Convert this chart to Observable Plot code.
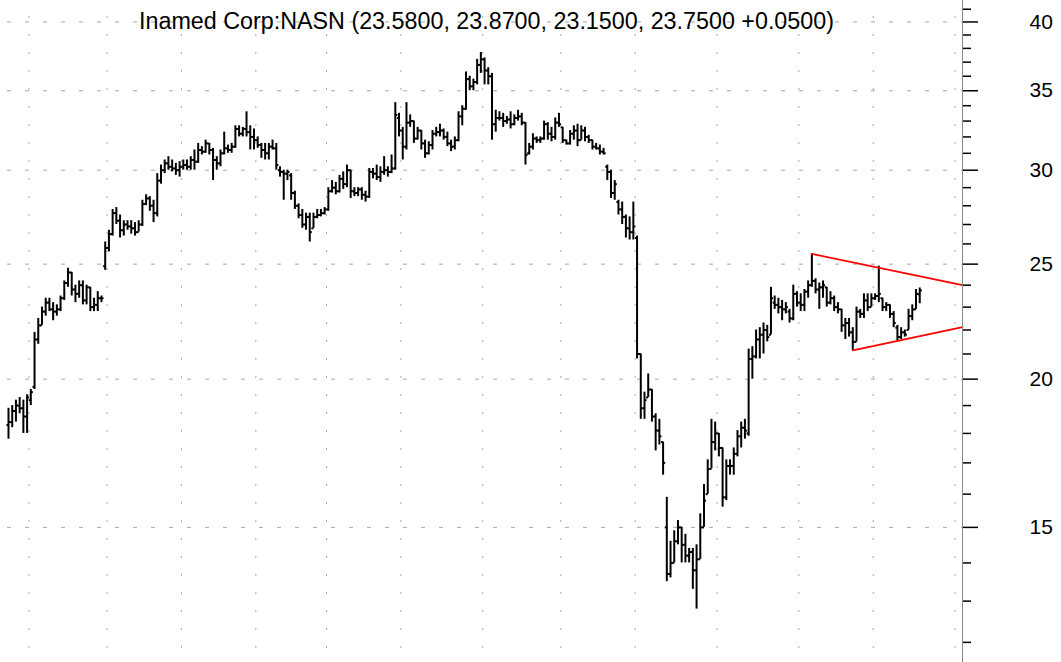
<!DOCTYPE html>
<html><head><meta charset="utf-8">
<script src="https://cdn.jsdelivr.net/npm/d3@7"></script>
<script src="https://cdn.jsdelivr.net/npm/@observablehq/plot@0.6"></script>
<style>html,body{margin:0;padding:0;background:#fff;}#chart{position:absolute;left:0;top:0;}</style>
</head><body><div id="chart"></div>
<script>
const title = "Inamed Corp:NASN (23.5800, 23.8700, 23.1500, 23.7500 +0.0500)";

const opens = [18.3,18.4,18.8,19.0,18.9,18.6,19.2,19.7,21.6,22.2,22.8,23.2,22.9,22.8,22.9,23.4,24.1,24.6,23.8,23.6,24.0,23.3,23.9,23.0,23.1,23.4,
24.9,25.8,26.5,27.6,27.2,26.7,27.0,26.9,26.8,26.6,27.0,28.1,28.4,28.0,27.6,29.4,30.0,30.4,30.2,30.1,30.0,30.2,30.3,30.2,
30.6,30.5,31.2,31.1,31.6,31.2,30.6,30.4,31.0,31.3,31.2,31.4,32.5,32.2,32.5,32.3,32.0,31.8,31.5,31.2,31.0,31.4,31.3,30.0,29.9,29.8,29.7,28.7,28.0,27.5,
27.0,27.4,26.8,27.4,27.5,27.6,27.8,28.8,29.0,28.8,29.5,29.2,30.0,28.8,28.7,28.9,28.6,28.5,29.9,29.8,
29.6,29.9,30.0,29.9,30.1,33.2,32.4,31.4,32.9,33.0,31.9,32.4,31.6,31.0,31.5,32.2,32.3,32.4,32.0,31.6,
31.4,31.8,33.3,33.8,35.8,35.3,35.6,36.8,37.2,36.4,36.0,32.8,33.2,33.2,33.0,33.1,32.8,33.2,33.3,32.9,
31.0,31.4,31.9,31.8,31.9,32.8,32.2,32.0,32.9,32.6,31.8,31.6,32.2,32.4,31.8,32.4,32.0,31.8,31.4,31.3,
31.1,30.2,29.9,28.7,28.2,27.8,27.4,26.8,26.6,26.3,21.0,18.9,19.3,19.6,18.6,18.1,17.7,15.0,13.7,14.0,
14.6,15.0,14.5,14.2,14.3,13.8,14.1,15.0,16.0,16.8,17.7,18.0,17.5,15.9,16.9,16.9,17.3,17.9,18.2,18.0,
20.8,20.9,21.6,21.8,22.0,21.8,23.2,23.1,23.0,22.9,22.8,22.5,23.6,23.2,23.1,23.7,24.0,24.2,23.8,23.9,
23.9,23.2,23.4,23.0,22.9,22.2,22.3,21.9,21.5,22.8,22.7,23.3,23.0,23.4,23.5,23.4,23.0,23.1,22.7,22.1,
21.7,21.9,22.0,22.6,22.9,23.58];
const highs = [18.9,19.0,19.2,19.3,19.2,19.4,19.6,21.9,22.5,23.0,23.4,23.4,23.2,23.1,23.5,24.2,24.8,24.6,24.0,24.2,24.2,24.0,23.9,23.4,23.7,23.5,
26.1,26.7,27.8,27.9,27.5,27.2,27.2,27.2,27.1,27.2,28.3,28.6,28.5,28.3,29.8,30.3,30.6,30.8,30.6,30.4,30.5,30.6,30.6,30.8,
31.2,31.6,31.4,31.8,31.6,31.3,30.8,31.2,32.3,31.5,31.6,32.7,32.7,32.6,33.6,32.7,32.5,32.0,31.6,31.6,31.6,31.8,31.6,30.2,30.0,30.0,29.8,28.8,28.1,27.8,
27.6,27.6,27.6,27.8,27.8,27.9,29.0,29.4,29.3,29.7,29.9,30.3,30.0,29.0,29.0,29.0,28.8,30.1,30.1,30.3,
30.2,30.8,30.2,30.9,34.2,33.5,32.6,34.2,33.4,33.0,32.6,32.4,31.8,31.7,32.4,32.6,32.8,32.5,32.3,31.8,
32.0,33.6,34.0,36.3,36.0,35.8,37.2,37.7,37.3,36.6,36.2,33.7,33.6,33.5,33.3,33.6,33.4,33.7,33.5,32.9,
31.6,32.2,32.0,32.0,33.0,32.9,32.6,33.2,33.5,32.6,31.8,32.4,32.7,32.8,32.7,32.6,32.1,31.8,31.6,31.5,
31.3,30.3,30.0,29.4,28.3,28.2,27.5,27.4,28.2,26.4,21.0,19.5,20.2,19.6,18.7,18.5,17.7,15.9,14.6,14.9,
15.2,15.0,14.8,14.4,14.4,14.5,15.4,16.3,17.1,18.5,18.4,18.0,17.5,17.1,17.1,17.5,18.1,18.4,18.5,21.2,
21.3,22.0,22.1,22.3,22.2,23.9,23.5,23.4,23.3,23.2,22.9,24.0,23.7,23.6,23.8,24.2,25.5,24.3,24.1,24.2,
23.9,23.7,23.5,23.2,22.9,22.5,22.5,22.1,23.0,22.9,23.6,23.6,23.6,23.6,24.9,23.4,23.2,23.1,22.8,22.2,
22.1,22.0,22.9,23.1,23.8,23.87];
const lows = [17.8,18.2,18.4,18.7,18.0,18.0,19.0,19.6,21.4,22.2,22.6,22.8,22.4,22.6,22.8,23.3,23.9,23.5,23.2,23.4,23.1,23.1,22.8,22.8,22.8,23.2,
24.7,25.6,26.4,27.0,26.3,26.4,26.7,26.5,26.4,26.6,26.9,28.0,27.7,27.1,27.4,29.2,29.8,30.0,29.9,29.7,29.6,30.0,30.0,30.0,
30.0,30.4,30.9,31.0,30.9,29.4,30.0,30.2,30.9,31.0,31.0,31.3,32.0,32.0,32.0,31.2,31.2,31.3,30.7,30.6,30.6,31.2,30.0,29.6,28.3,29.4,28.3,27.8,27.3,26.8,
26.7,26.1,26.8,27.3,27.4,27.5,27.7,28.7,28.6,28.7,28.9,29.0,28.4,28.5,28.5,28.3,28.2,28.4,29.5,29.4,
29.3,29.7,29.6,29.8,30.0,32.0,30.6,31.2,32.6,31.6,31.8,31.2,30.7,30.9,31.2,32.0,32.0,31.8,31.4,31.1,
31.2,31.7,32.7,33.7,35.0,35.0,35.4,36.2,35.4,35.4,31.8,32.3,33.0,32.6,32.8,32.5,32.7,33.0,32.7,30.3,
30.9,31.2,31.6,31.6,31.8,31.8,31.7,31.8,32.6,31.6,31.5,31.5,31.8,31.4,31.8,31.7,31.6,31.2,31.2,30.9,
30.9,29.4,28.4,28.3,27.5,27.0,26.3,26.2,26.2,20.8,18.5,18.5,19.3,18.4,17.4,17.6,16.6,13.5,13.6,14.0,
14.5,14.0,14.0,14.0,13.3,12.8,14.1,15.0,16.0,16.8,17.4,17.2,15.6,15.8,16.6,16.6,17.2,17.5,17.8,17.9,
20.0,20.8,20.8,21.0,21.5,21.8,22.9,22.7,22.4,22.7,22.3,22.4,23.0,22.8,22.8,23.4,23.9,23.6,22.9,23.4,
23.0,23.1,22.8,22.7,21.9,21.6,21.7,21.15,21.5,22.5,22.5,22.8,23.0,23.3,23.2,22.8,22.8,22.5,22.1,21.5,
21.6,21.7,22.0,22.4,22.9,23.15];
const closes = [18.4,18.8,19.0,18.9,18.6,19.3,19.5,21.6,22.2,22.8,23.2,22.9,22.8,22.9,23.4,24.1,24.6,23.8,23.6,24.0,23.3,23.9,23.0,23.1,23.4,23.4,
25.8,26.5,27.6,27.2,26.7,27.0,26.9,26.8,26.6,27.0,28.1,28.4,28.0,27.6,29.4,30.0,30.4,30.2,30.1,30.0,30.2,30.3,30.2,30.6,
30.5,31.2,31.1,31.6,31.2,30.6,30.4,31.0,31.3,31.2,31.4,32.5,32.2,32.5,32.3,32.0,31.8,31.5,31.2,31.0,31.4,31.3,30.3,29.9,29.8,29.9,28.7,28.0,27.5,27.0,
27.4,26.6,27.4,27.5,27.6,27.8,28.8,29.0,28.8,29.5,29.2,30.0,28.8,28.7,28.9,28.6,28.5,29.9,29.8,29.6,
29.9,30.0,29.9,30.1,33.4,32.4,31.4,32.9,33.0,31.9,32.4,31.6,31.0,31.5,32.2,32.3,32.4,32.0,31.6,31.4,
31.8,33.3,33.8,35.8,35.3,35.6,36.8,37.2,36.4,36.0,32.8,33.2,33.2,33.0,33.1,32.8,33.2,33.3,32.9,30.9,
31.4,31.9,31.8,31.9,32.8,32.2,32.0,32.9,32.8,31.8,31.6,32.2,32.4,31.8,32.4,32.0,31.8,31.4,31.3,31.1,
31.0,29.9,28.7,29.2,27.8,27.4,26.8,26.6,26.9,21.0,18.9,19.2,19.6,18.6,18.1,17.9,17.0,13.7,14.0,14.6,
15.0,14.5,14.2,14.3,13.8,14.1,15.0,15.8,16.8,17.7,18.0,17.5,15.9,16.9,16.9,17.3,17.9,18.2,18.1,20.8,
20.9,21.6,21.8,22.0,21.7,23.4,23.1,23.0,22.9,23.0,22.5,23.6,23.2,23.1,23.7,24.0,24.2,23.8,23.9,24.0,
23.2,23.4,23.0,22.9,22.2,22.3,21.9,21.5,22.8,22.7,23.3,23.0,23.4,23.5,23.6,23.0,23.1,22.7,22.3,21.7,
21.9,21.8,22.6,22.9,23.6,23.75];

const priceTicks = [15, 20, 25, 30, 35, 40];
const minorTicks = [12,13,14,16,17,18,19,21,22,23,24,26,27,28,29,31,32,33,34,36,37,38,39,41];
const monthStarts = [5.5, 26.5, 46.5, 66.5, 85.5, 105.5, 127.5, 148.5, 168.5, 190.5, 212.5, 232.5, 254.5];
const upperTrend = [{i: 216, p: 25.5}, {i: 256.5, p: 24.0}];
const lowerTrend = [{i: 227, p: 21.15}, {i: 256.5, p: 22.12}];

const bars = opens.map((o, i) => ({i, open: o, high: highs[i], low: lows[i], close: closes[i]}));
const xMax = 256.5;

const chart = Plot.plot({
  width: 1061, height: 662,
  marginLeft: 0, marginRight: 99, marginTop: 0, marginBottom: 0,
  x: {type: "linear", domain: [-2.15, xMax], axis: null},
  y: {type: "log", domain: [11.54, 41.7], axis: null},
  style: {fontFamily: "'Liberation Sans', Arial, sans-serif", background: "white", color: "black"},
  marks: [
    Plot.ruleY(priceTicks, {stroke: "#a8a8a8", strokeWidth: 1, strokeDasharray: "4,14", strokeDashoffset: 11}),
    Plot.ruleX(monthStarts, {stroke: "#a8a8a8", strokeWidth: 1, strokeDasharray: "2,16", strokeDashoffset: 2}),
    Plot.ruleX(bars, {x: "i", y1: "low", y2: "high", stroke: "black", strokeWidth: 2}),
    Plot.link(bars, {x1: d => d.i - 0.55, x2: "i", y1: "open", y2: "open", stroke: "black", strokeWidth: 2}),
    Plot.link(bars, {x1: "i", x2: d => d.i + 0.55, y1: "close", y2: "close", stroke: "black", strokeWidth: 2}),
    Plot.line(upperTrend, {x: "i", y: "p", stroke: "#ff0000", strokeWidth: 1.8}),
    Plot.line(lowerTrend, {x: "i", y: "p", stroke: "#ff0000", strokeWidth: 1.8}),
    Plot.ruleX([xMax], {stroke: "#888888", strokeWidth: 1}),
    Plot.axisY(minorTicks, {anchor: "right", tickSize: 8, tickFormat: () => "", stroke: "black", strokeWidth: 1.5}),
    Plot.axisY(priceTicks, {anchor: "right", tickSize: 15, tickPadding: 52, fontSize: 21, stroke: "black", strokeWidth: 1.5, fill: "black"}),
    Plot.text([title], {frameAnchor: "top", lineAnchor: "middle", dx: 5, dy: 21, fontSize: 23.3, fill: "black"})
  ]
});
document.getElementById("chart").appendChild(chart);
</script>
</body></html>
